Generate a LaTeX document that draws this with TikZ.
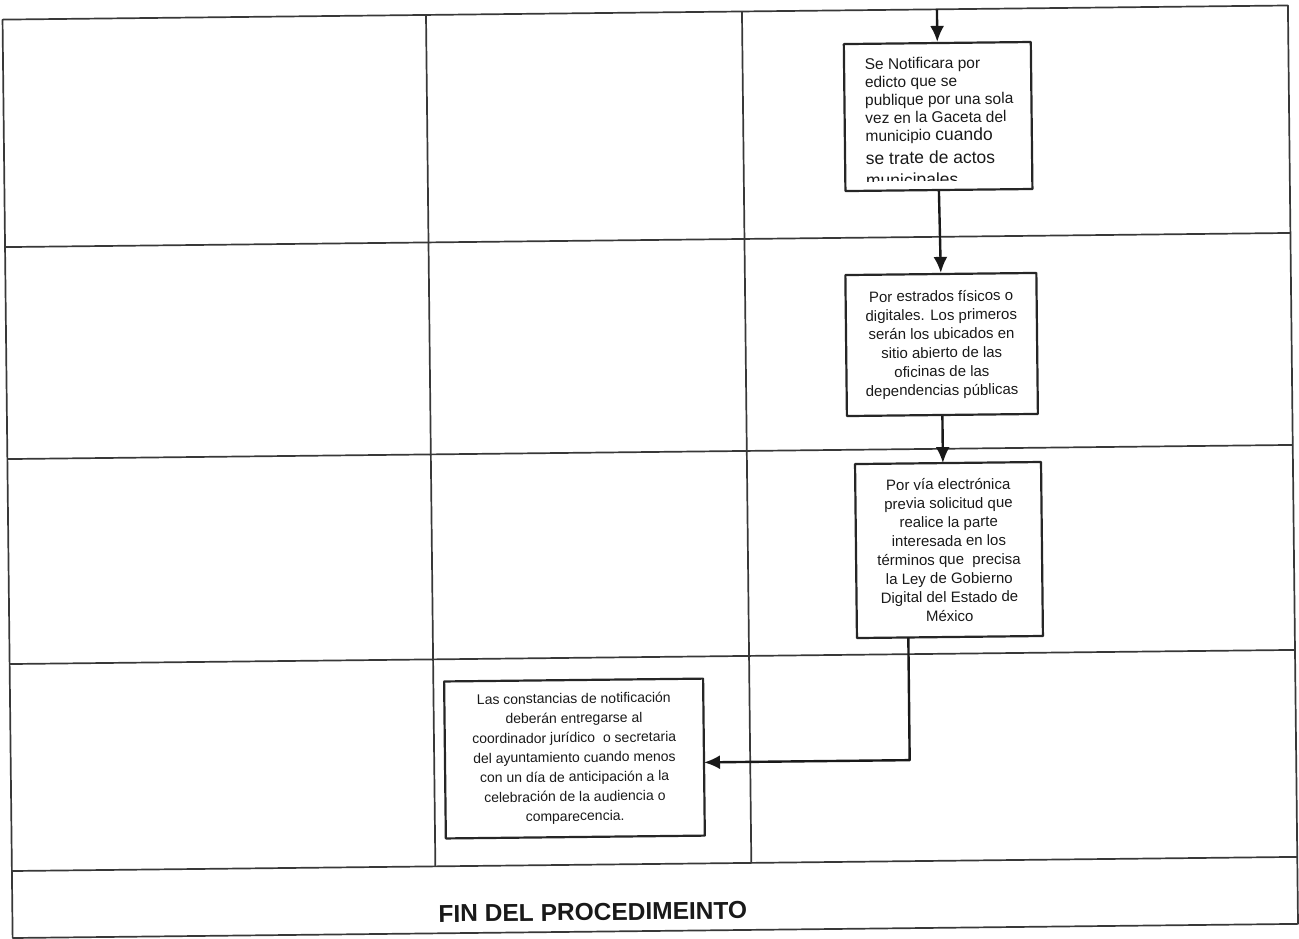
\documentclass[tikz,border=0pt]{standalone}
\usepackage{fontspec}
\setmainfont{Liberation Sans}
\usetikzlibrary{arrows.meta}

\begin{document}
\begin{tikzpicture}[x=1pt,y=-1pt,line join=bevel,
  >={Latex[length=16pt,width=14pt]},
  lane/.style={draw=black!78,line width=1.7pt},
  box/.style={draw=black!85,line width=2.2pt,inner sep=0pt},
  flow/.style={->,draw=black!90,line width=2.4pt},
  txt/.style={inner sep=0pt,text=black!90,align=center,font=\fontsize{15}{18.8}\selectfont}]
  \useasboundingbox (0,0) rectangle (1299,939);
\begin{scope}[rotate around={0.63:(650,470)},transform shape]
  % Lanes: frame, rows and columns
  \draw[lane] (7.5,12.5) rectangle (1293,931);
  \foreach \y in {240,452,657,864}
    \draw[lane] (7.5,\y) -- (1293,\y);
  \foreach \x in {431,747}
    \draw[lane] (\x,12.5) -- (\x,864);
  %
  % Node: edicto
  \node[box,minimum width=187pt,minimum height=147pt] (edicto) at (942,119.7) {};
\begin{scope}
  \clip (848,47) rectangle (1034,183.5);
  \node[txt,anchor=north west,align=left,font=\fontsize{15.5}{18}\selectfont] (edictotxt) at (869,60.4)
    {Se Notificara por\\ edicto que se\\ publique por una sola\\ vez en la Gaceta del\\
     municipio {\fontsize{17.5}{21}\selectfont cuando}\\[5pt]
     {\fontsize{17.5}{21}\selectfont se trate de actos}\\[4pt]
     {\fontsize{17.5}{21}\selectfont municipales}};
\end{scope}
  % Node: estrados
  \node[box,txt,minimum width=191pt,minimum height=141pt] (estrados) at (943,347.7)
    {Por estrados físicos o\\ digitales. Los primeros\\ serán los ubicados en\\
     sitio abierto de las\\ oficinas de las\\ dependencias públicas};
  % Node: electronica
  \node[box,txt,minimum width=186pt,minimum height=174pt] (electronica) at (948.1,553.3)
    {Por vía electrónica\\ previa solicitud que\\ realice la parte\\ interesada en los\\
     términos que~ precisa\\ la Ley de Gobierno\\ Digital del Estado de\\ México};
  % Node: constancias
  \node[box,txt,font=\fontsize{14}{19.6}\selectfont,minimum width=259pt,minimum height=157pt] (constancias) at (571.3,757.7)
    {Las constancias de notificación\\ deberán entregarse al\\ coordinador jurídico~ o secretaria\\
     del ayuntamiento cuando menos\\ con un día de anticipación a la\\ celebración de la audiencia o\\ comparecencia.};
  % Node: fin
  \node[inner sep=0pt,text=black!90,font=\bfseries\fontsize{24.5}{29}\selectfont] (fin) at (588,911.4) {FIN DEL PROCEDIMEINTO};
  %
  \coordinate (entry) at (942,12.5);
  \coordinate (e3in) at (943,466.3);
  \coordinate (e3out) at (906.5,640.3);
  \coordinate (bend) at (906.5,763);
  \coordinate (e4in) at (700.8,763);
  % Edge: entry -> edicto
  \draw[flow] (entry) -- (edicto.north);
  % Edge: edicto -> estrados
  \draw[flow] (edicto.south) -- (estrados.north);
  % Edge: estrados -> electronica
  \draw[flow] (estrados.south) -- (e3in);
  % Edge: electronica -> constancias
  \draw[flow] (e3out) -- (bend) -- (e4in);
\end{scope}
\end{tikzpicture}
\end{document}
